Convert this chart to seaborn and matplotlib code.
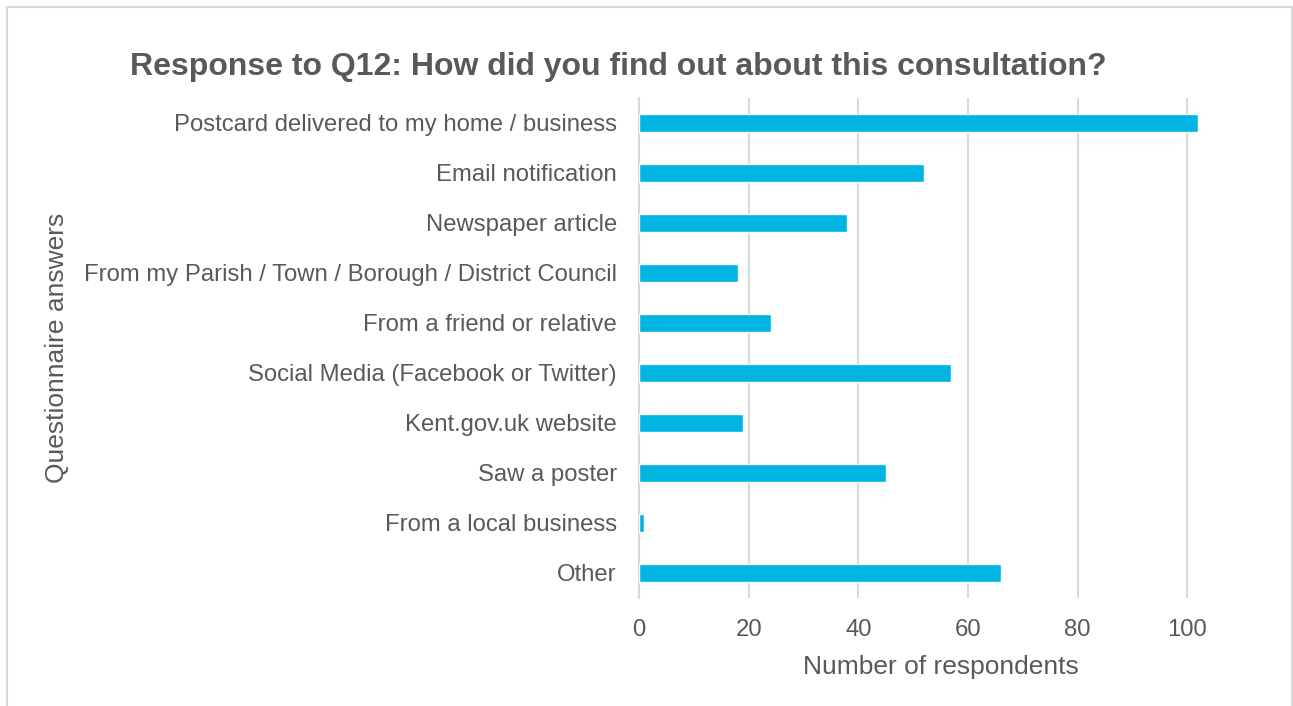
import matplotlib
matplotlib.use("Agg")
import matplotlib.pyplot as plt
import seaborn as sns
import pandas as pd
from matplotlib.patches import Rectangle

# Answers to Q12 and number of respondents choosing each
answers = [
    "Postcard delivered to my home / business",
    "Email notification",
    "Newspaper article",
    "From my Parish / Town / Borough / District Council",
    "From a friend or relative",
    "Social Media (Facebook or Twitter)",
    "Kent.gov.uk website",
    "Saw a poster",
    "From a local business",
    "Other",
]
respondents = [102, 52, 38, 18, 24, 57, 19, 45, 1, 66]
x_ticks = [0, 20, 40, 60, 80, 100]

title = "Response to Q12: How did you find out about this consultation?"
x_label = "Number of respondents"
y_label = "Questionnaire answers"

df = pd.DataFrame({"answer": answers, "count": respondents})

sns.set_theme(style="white")
plt.rcParams["font.family"] = ["Liberation Sans", "DejaVu Sans"]

W, H = 1293, 706
fig = plt.figure(figsize=(W / 100, H / 100), dpi=100)
fig.patch.set_facecolor("white")

left, right, top, bottom = 639, 1242, 98, 598
ax = fig.add_axes([left / W, 1 - bottom / H, (right - left) / W, (bottom - top) / H])

text_col = "#595959"
grid_col = "#d9d9d9"
bar_col = "#00b5e2"

sns.barplot(data=df, y="answer", x="count", order=answers, color=bar_col,
            width=0.355, saturation=1, ax=ax, zorder=3)

ax.set_xlim(0, 110)
ax.set_xticks(x_ticks)
ax.set_xticklabels([str(t) for t in x_ticks])
ax.xaxis.grid(True, color=grid_col, linewidth=1.5, zorder=0)
ax.yaxis.grid(False)
ax.set_axisbelow(True)
for side in ["top", "right", "bottom"]:
    ax.spines[side].set_visible(False)
ax.spines["left"].set_color(grid_col)
ax.spines["left"].set_linewidth(1.5)
ax.tick_params(axis="both", length=0, colors=text_col, labelsize=17.2)
ax.tick_params(axis="y", pad=16)
ax.tick_params(axis="x", pad=15)

ax.set_xlabel(x_label, fontsize=19, color=text_col, labelpad=10)
ax.set_ylabel("")
fig.text(57 / W, 1 - 348 / H, y_label, rotation=90, ha="center", va="center",
         fontsize=19, color=text_col)

fig.text(618 / W, 1 - 67 / H, title, ha="center", va="center",
         fontsize=23, fontweight="bold", color=text_col)

# light frame around the chart
fig.patches.append(Rectangle((7 / W, -0.05), (1292 - 7) / W, 1 - 7 / H + 0.05,
                             transform=fig.transFigure, fill=False,
                             edgecolor="#d9d9d9", linewidth=1.5))

fig.savefig("out.png", dpi=100, facecolor="white")
